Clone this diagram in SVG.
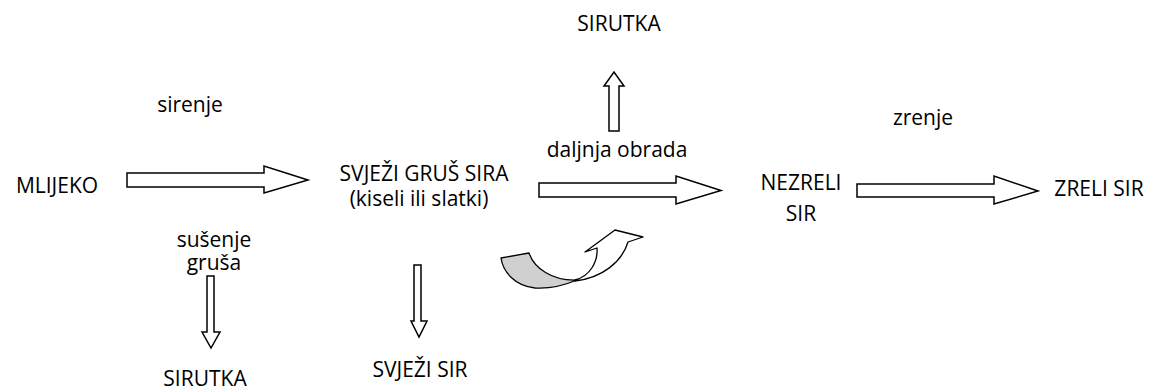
<svg xmlns="http://www.w3.org/2000/svg" width="1158" height="391" viewBox="0 0 1158 391">
<style>
text{font-family:"Open Sans","Noto Sans",sans-serif;font-size:21px;fill:#000;text-anchor:middle}
.ba{fill:#fff;stroke:#000;stroke-width:1.5;stroke-linejoin:miter}
.cv{stroke:#000;stroke-width:1.3;stroke-linejoin:round}
</style>
<rect width="1158" height="391" fill="#fff"/>
<g id="mlijeko"><text x="57" y="193">MLIJEKO</text></g>
<g id="svjezi-grus"><text x="424" y="181">SVJEŽI GRUŠ SIRA</text><text x="419" y="206">(kiseli ili slatki)</text></g>
<g id="sirutka-top"><text x="619" y="31">SIRUTKA</text></g>
<g id="nezreli"><text x="801" y="190">NEZRELI</text><text x="801" y="221">SIR</text></g>
<g id="zreli"><text x="1099" y="196">ZRELI SIR</text></g>
<g id="sirutka-bottom"><text x="205" y="386">SIRUTKA</text></g>
<g id="svjezi-sir"><text x="420" y="377">SVJEŽI SIR</text></g>
<g id="labels">
<text x="190" y="112">sirenje</text>
<text x="214" y="247">sušenje</text>
<text x="214" y="270">gruša</text>
<text x="617" y="157">daljnja obrada</text>
<text x="923" y="125">zrenje</text>
</g>
<g id="connectors">
<polygon class="ba" points="127,173 264,173 264,166 308,180 264,193 264,187 127,187"/>
<polygon class="ba" points="539,183 676,183 676,176 721,190.5 676,204 676,197 539,197"/>
<polygon class="ba" points="857,184 994,184 994,176 1038,191 994,204 994,197 857,197"/>
<polygon class="ba" points="609,131 609,86 604,86 614,72 624,86 619,86 619,131"/>
<polygon class="ba" points="207,276 214,276 214,332 220,332 211,348 202,332 207,332"/>
<polygon class="ba" points="414,265 421,265 421,321 427,321 419,337 411,321 414,321"/>
<path class="cv" fill="#d0d0d0" d="M501,258 L529,253 C534,268 552,281 577,280 C565,285 550,289 535,288 C515,286 503,272 501,258 Z"/>
<path class="cv" fill="#fff" d="M575,280 C590,276 598,262 597,248 L585,252 L615,230 L643,237 L628,242 C622,262 602,278 575,281 Z"/>
</g>
</svg>
